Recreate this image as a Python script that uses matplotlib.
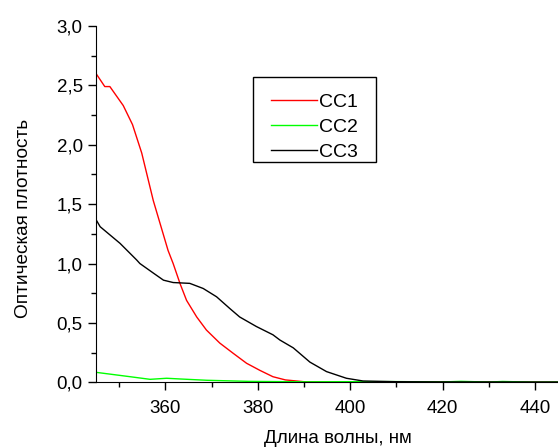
import matplotlib
matplotlib.use("Agg")
import matplotlib.pyplot as plt
from matplotlib.patches import Rectangle
from matplotlib.ticker import MultipleLocator, FuncFormatter

plt.rcParams['font.family'] = ['Liberation Sans', 'DejaVu Sans']

# wavelength, nm / optical density
wl_cc1 = [345, 346.9, 348, 350.9, 352.9, 354.9, 357.4, 360.6, 361.7, 363.2,
          364.6, 366.8, 368.9, 371.8, 374.7, 377.6, 380.5, 383.3, 386, 390,
          400, 420, 445]
cc1 = [2.60, 2.49, 2.49, 2.33, 2.17, 1.93, 1.53, 1.11, 1.00, 0.83,
       0.69, 0.55, 0.44, 0.33, 0.244, 0.16, 0.10, 0.047, 0.02, 0.005,
       0.002, 0.003, 0.0]

wl_cc2 = [345, 352.4, 356.7, 360.3, 363.2, 369, 378, 390, 400, 410, 420,
          424, 430, 433, 440, 445]
cc2 = [0.084, 0.047, 0.025, 0.034, 0.028, 0.017, 0.008, 0.004, 0.005, 0.006,
       0.003, 0.008, 0.002, 0.007, 0.001, 0.002]

wl_cc3 = [345, 345.9, 350.2, 353.8, 354.5, 357.4, 359.6, 361.7, 365.3, 368.2,
          371.1, 374, 376.1, 379.7, 383.3, 384.8, 387.7, 391.3, 394.9, 399.2,
          402.8, 410, 420, 445]
cc3 = [1.37, 1.31, 1.17, 1.03, 1.00, 0.92, 0.86, 0.84, 0.833, 0.79,
       0.72, 0.62, 0.55, 0.47, 0.40, 0.356, 0.29, 0.17, 0.09, 0.034,
       0.011, 0.005, 0.003, 0.002]

W, H = 558, 448
fig = plt.figure(figsize=(W/100, H/100), dpi=100)
ax = fig.add_axes([96/W, 1 - 382.3/H, 1 - 96/W, (382.3 - 26)/H])

ax.plot(wl_cc1, cc1, color='#ff0000', lw=1.0, label='CC1')
ax.plot(wl_cc2, cc2, color='#00ff00', lw=1.0, label='CC2')
ax.plot(wl_cc3, cc3, color='black', lw=1.0, label='CC3')

ax.set_xlim(345, 445)
ax.set_ylim(0, 3.0)
ax.xaxis.set_major_locator(MultipleLocator(20))
ax.xaxis.set_minor_locator(MultipleLocator(10))
ax.yaxis.set_major_locator(MultipleLocator(0.5))
ax.yaxis.set_minor_locator(MultipleLocator(0.25))
ax.yaxis.set_major_formatter(FuncFormatter(lambda v, p: ('%.1f' % v).replace('.', ',')))

for s in ['top', 'right']:
    ax.spines[s].set_visible(False)
ax.tick_params(which='major', length=6, width=1, labelsize=13.5, direction='out')
ax.tick_params(axis='x', which='major', pad=7)
ax.tick_params(which='minor', length=3.5, width=1, direction='out')

ax.set_xlabel('Длина волны, нм', fontsize=13.5)
ax.xaxis.set_label_coords(0.524, -0.135)
ax.set_ylabel('Оптическая плотность', fontsize=13.7)
ax.yaxis.set_label_coords(-0.1385, 0.461)

# legend entries without frame, box drawn separately (Origin-style padding)
leg = ax.legend(loc='upper left', bbox_to_anchor=(270.7/W, 1 - 93/H),
                bbox_transform=fig.transFigure, borderaxespad=0, borderpad=0,
                fontsize=14, frameon=False,
                handlelength=2.37, handletextpad=0.12, labelspacing=0.39)
fig.add_artist(Rectangle((253/W, 1 - 162/H), 123/W, 85/H, transform=fig.transFigure,
                         fill=False, edgecolor='black', lw=1.0))

fig.savefig('out.png', dpi=100)
